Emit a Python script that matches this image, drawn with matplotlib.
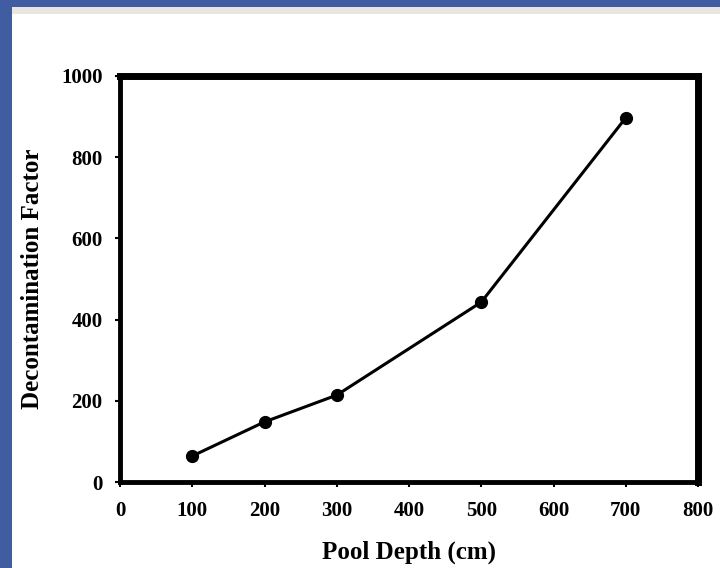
import matplotlib
matplotlib.use("Agg")
import matplotlib.pyplot as plt
from matplotlib.patches import Rectangle

pool_depth = [100, 200, 300, 500, 700]
decon_factor = [64, 148, 214, 443, 897]
x_ticks = [0, 100, 200, 300, 400, 500, 600, 700, 800]
y_ticks = [0, 200, 400, 600, 800, 1000]

W, H = 720, 568
fig = plt.figure(figsize=(W / 100, H / 100), dpi=100)
fig.patch.set_facecolor("white")

# slide background decoration
fig.patches.append(Rectangle((0, 0), 12 / W, 1, transform=fig.transFigure,
                             facecolor="#3f5da0", edgecolor="none", zorder=0))
fig.patches.append(Rectangle((0, 1 - 7 / H), 1, 7 / H, transform=fig.transFigure,
                             facecolor="#3f5da0", edgecolor="none", zorder=0))
fig.patches.append(Rectangle((12 / W, 1 - 14 / H), 1, 7 / H, transform=fig.transFigure,
                             facecolor="#e9e6e0", edgecolor="none", zorder=0))

left, right, top, bottom = 120, 698, 76, 482
ax = fig.add_axes([left / W, 1 - bottom / H, (right - left) / W, (bottom - top) / H])

ax.plot(pool_depth, decon_factor, color="black", lw=2.2, marker="o", ms=8.5,
        clip_on=False, zorder=3)

ax.set_xlim(0, 800)
ax.set_ylim(0, 1000)
ax.set_xticks(x_ticks)
ax.set_yticks(y_ticks)

font = dict(family="Liberation Serif", weight="bold")
ax.set_xticklabels([str(v) for v in x_ticks], fontsize=15, **font)
ax.set_yticklabels([str(v) for v in y_ticks], fontsize=15, **font)
ax.tick_params(direction="out", length=3.5, width=1.5, colors="black")
ax.tick_params(axis="x", pad=10.5)
ax.tick_params(axis="y", pad=9)

for side in ["left", "bottom"]:
    ax.spines[side].set_linewidth(3.5)
for side in ["top", "right"]:
    ax.spines[side].set_linewidth(5)

ax.set_xlabel("Pool Depth (cm)", fontsize=18, **font)
ax.set_ylabel("Decontamination Factor", fontsize=18, **font)
ax.xaxis.set_label_coords(0.5, 1 - (552 - top) / (bottom - top), transform=ax.transAxes)
ax.xaxis.label.set_verticalalignment("center")
ax.yaxis.set_label_coords((33 - left) / (right - left), 0.5, transform=ax.transAxes)
ax.yaxis.label.set_verticalalignment("center")

fig.savefig("out.png", dpi=100)
